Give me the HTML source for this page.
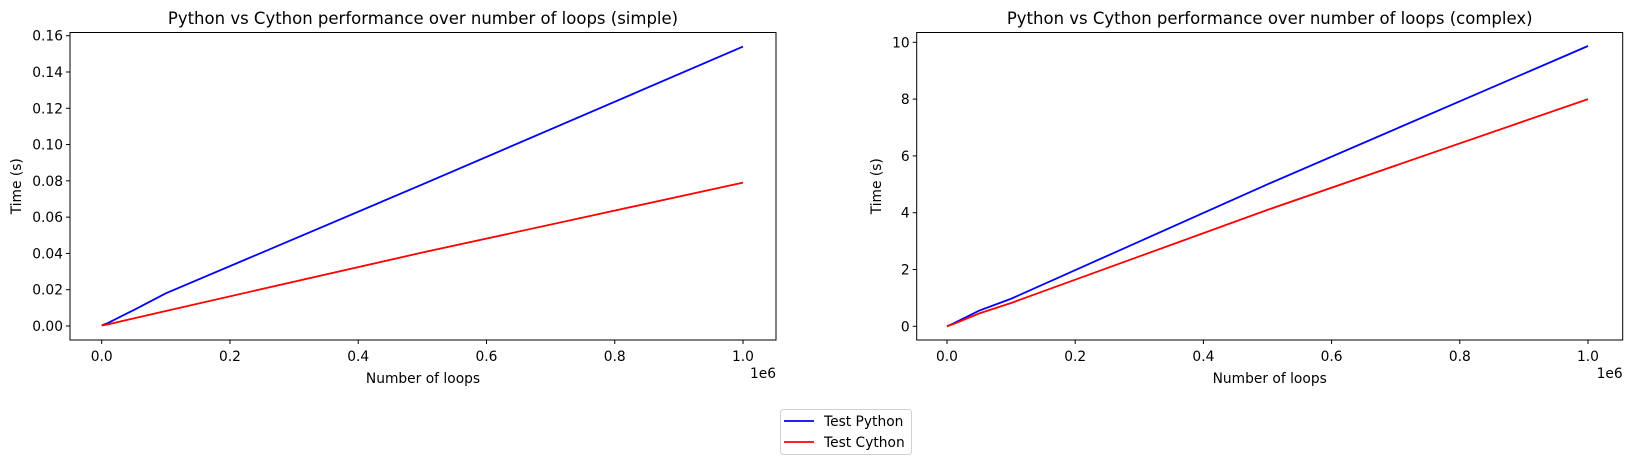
<!DOCTYPE html>
<html><head><meta charset="utf-8"><style>
body{margin:0;background:#fff;}
svg text{font-family:"DejaVu Sans","Liberation Sans",sans-serif;fill:#000;}
</style></head><body>
<svg id="fig" width="1630" height="465" xmlns="http://www.w3.org/2000/svg"></svg>
<script>
const loops = [0, 10000, 50000, 100000, 500000, 1000000];
const simplePython = [0.0003, 0.0017, 0.0088, 0.018, 0.078, 0.154];
const simpleCython = [0.0003, 0.0009, 0.0042, 0.0083, 0.0405, 0.079];
const complexPython = [0.0, 0.1, 0.55, 0.97, 5.0, 9.87];
const complexCython = [0.0, 0.08, 0.45, 0.82, 4.1, 8.0];
const xTicks = [0, 0.2, 0.4, 0.6, 0.8, 1.0];
const xTickLabels = ["0.0","0.2","0.4","0.6","0.8","1.0"];
const simpleYTicks = [0,0.02,0.04,0.06,0.08,0.10,0.12,0.14,0.16];
const simpleYLabels = ["0.00","0.02","0.04","0.06","0.08","0.10","0.12","0.14","0.16"];
const complexYTicks = [0,2,4,6,8,10];
const complexYLabels = ["0","2","4","6","8","10"];

const svg = document.getElementById('fig');
const NS = 'http://www.w3.org/2000/svg';
const FS = 13.8;
function mk(tag, attrs, parent, text){
  const e = document.createElementNS(NS, tag);
  for (const k in attrs) e.setAttribute(k, attrs[k]);
  if (text !== undefined) e.textContent = text;
  (parent || svg).appendChild(e);
  return e;
}
function panel(cfg){
  const g = mk('g', {});
  
  
  const L = cfg.left, R = cfg.left + 706, T = 32.5, B = 340;
  const sx = v => cfg.x0 + (v / 1e6) * (cfg.x1 - cfg.x0);
  const sy = v => cfg.y0 - (v / cfg.yMax) * (cfg.y0 - cfg.y1);
  [[cfg.py, '#0000ff', 'python-line'], [cfg.cy, '#ff0000', 'cython-line']].forEach(([arr, col, nm]) => {
    const p = mk('polyline', {points: loops.map((x, i) => sx(x).toFixed(2) + ',' + sy(arr[i]).toFixed(2)).join(' '), fill: 'none', stroke: col, 'stroke-width': 1.8}, g);
    
    
  });
  const fr = mk('rect', {x: L, y: T, width: R - L, height: B - T, fill: 'none', stroke: '#000', 'stroke-width': 1}, g);
  
  
  xTicks.forEach((t, i) => {
    const x = sx(t * 1e6);
    mk('line', {x1: x, x2: x, y1: B, y2: B + 4, stroke: '#000'}, g);
    const tx = mk('text', {x: x, y: B + 21, 'font-size': FS, 'text-anchor': 'middle'}, g, xTickLabels[i]);
    
    
  });
  cfg.yt.forEach((t, i) => {
    const y = sy(t);
    mk('line', {x1: L - 4, x2: L, y1: y, y2: y, stroke: '#000'}, g);
    const ty = mk('text', {x: L - 7, y: y + 5, 'font-size': FS, 'text-anchor': 'end'}, g, cfg.yl[i]);
    
    
  });
  const off = mk('text', {x: R, y: B + 38, 'font-size': FS, 'text-anchor': 'end'}, g, '1e6');
  
  
  const xl = mk('text', {x: (L + R) / 2, y: B + 43, 'font-size': FS, 'text-anchor': 'middle'}, g, 'Number of loops');
  
  
  const yl = mk('text', {x: 0, y: 0, 'font-size': FS, 'text-anchor': 'middle', transform: 'translate(' + cfg.ytx + ',' + ((T + B) / 2) + ') rotate(-90)'}, g, 'Time (s)');
  
  
  const tt = mk('text', {x: (L + R) / 2, y: 24, 'font-size': 16.5, 'text-anchor': 'middle'}, g, cfg.title);
  
  
}
panel({name: 'simple-panel', left: 70, x0: 101.7, x1: 743, y0: 326, y1: 35.7, yMax: 0.16, py: simplePython, cy: simpleCython, yt: simpleYTicks, yl: simpleYLabels, ytx: 21, title: 'Python vs Cython performance over number of loops (simple)'});
panel({name: 'complex-panel', left: 916.7, x0: 947, x1: 1588, y0: 326.3, y1: 42.3, yMax: 10, py: complexPython, cy: complexCython, yt: complexYTicks, yl: complexYLabels, ytx: 881, title: 'Python vs Cython performance over number of loops (complex)'});

const lg = mk('g', {});


mk('rect', {x: 780.5, y: 409.5, width: 131, height: 45, rx: 3, fill: '#fff', stroke: '#d0d0d0'}, lg);
[['Test Python', '#0000ff', 421], ['Test Cython', '#ff0000', 442]].forEach(([t, c, y]) => {
  const e = mk('g', {}, lg);
  
  
  mk('line', {x1: 784, x2: 814, y1: y, y2: y, stroke: c, 'stroke-width': 1.8}, e);
  mk('text', {x: 824, y: y + 5, 'font-size': FS}, e, t);
});
</script>
</body></html>
